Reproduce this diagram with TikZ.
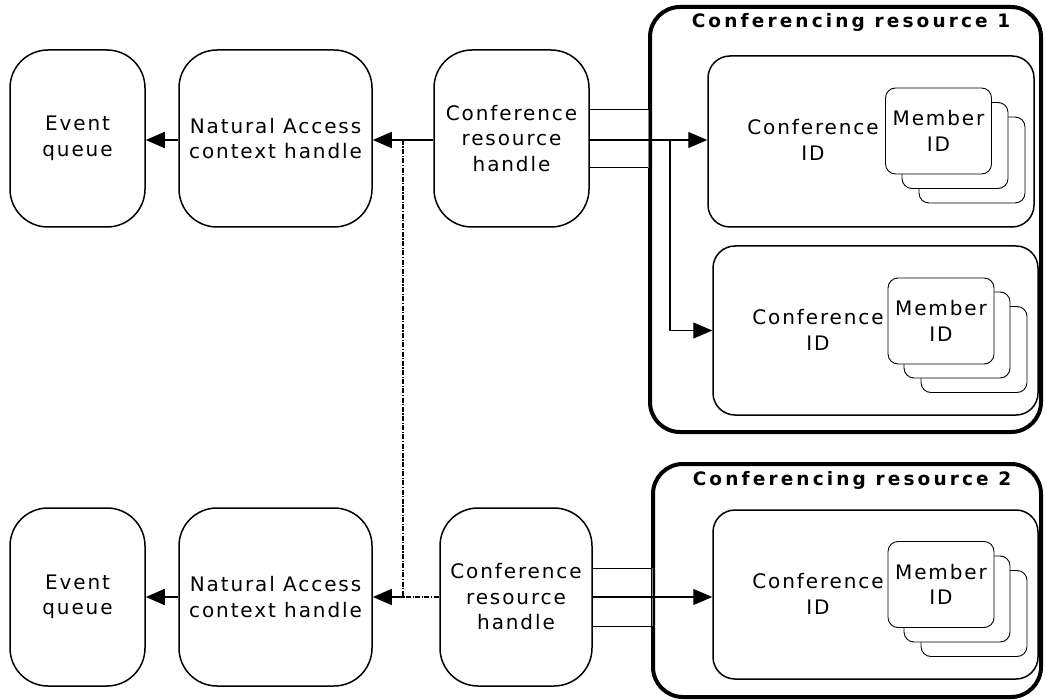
\documentclass[tikz,border=0pt]{standalone}
\usepackage{fontspec}
\setmainfont{DejaVu Sans}[LetterSpace=9.5]
\newfontfamily\titlefont{DejaVu Sans Bold}[LetterSpace=17]
\usetikzlibrary{arrows.meta}
\begin{document}
\begin{tikzpicture}[x=1pt,y=-1pt,
  txt/.style={font=\fontsize{20}{25.5}\selectfont, align=center, inner sep=0pt},
  bigbox/.style={draw, line width=1.5pt, rounded corners=38pt, txt},
  outerbox/.style={draw, line width=4pt, rounded corners=30pt},
  innerbox/.style={draw, line width=1.5pt, rounded corners=22pt},
  memberbox/.style={draw, fill=white, line width=0.9pt, rounded corners=10pt, minimum width=106pt, minimum height=86pt},
  conn/.style={line width=1.6pt, -{Triangle[length=19pt,width=16pt]}},
  thin/.style={line width=1pt},
  title/.style={font=\titlefont\fontsize{18.5}{20}\selectfont, inner sep=0pt}]
\useasboundingbox (0,0) rectangle (1046,700);

% ---------- left side boxes ----------
\node[bigbox, minimum width=135pt, minimum height=177pt] (eq1) at (77.5,138.5) {Event\\queue};
\node[bigbox, minimum width=193pt, minimum height=177pt] (na1) at (275.5,138.5) {Natural Access\\context handle};
\node[bigbox, minimum width=155pt, minimum height=177pt] (crh1) at (511.5,138.5) {Conference\\resource\\handle};

\node[bigbox, minimum width=135pt, minimum height=178pt] (eq2) at (77.5,597) {Event\\queue};
\node[bigbox, minimum width=193pt, minimum height=178pt] (na2) at (275.5,597) {Natural Access\\context handle};
\node[bigbox, minimum width=152pt, minimum height=178pt] (crh2) at (516,597) {Conference\\resource\\handle};

% ---------- conferencing resources ----------
\node[outerbox, minimum width=391pt, minimum height=425pt] (out1) at (845.5,219.5) {};
\node[outerbox, minimum width=388pt, minimum height=233pt] (out2) at (847,580.5) {};
\node[title] (t1) at (851,22) {Conferencing resource 1};
\node[title] (t2) at (852,480) {Conferencing resource 2};

\node[innerbox, minimum width=326pt, minimum height=171pt] (in1) at (871,141.5) {};
\node[innerbox, minimum width=325pt, minimum height=169pt] (in2) at (875.5,330.5) {};
\node[innerbox, minimum width=325pt, minimum height=169pt] (in3) at (875.5,594.5) {};

% member stacks
\node[memberbox] (m1c) at (972,160) {};
\node[memberbox] (m1b) at (955,145.5) {};
\node[memberbox, txt] (m1a) at (938.5,131) {Member\\ID};
\node[memberbox] (m2c) at (974,349.5) {};
\node[memberbox] (m2b) at (957,335) {};
\node[memberbox, txt] (m2a) at (941,321) {Member\\ID};
\node[memberbox] (m3c) at (974,613.5) {};
\node[memberbox] (m3b) at (957,599) {};
\node[memberbox, txt] (m3a) at (941,584.5) {Member\\ID};

\node[txt] (c1) at (813,140) {Conference\\ID};
\node[txt] (c2) at (818,330) {Conference\\ID};
\node[txt] (c3) at (818,594) {Conference\\ID};

% ---------- connectors ----------
\coordinate (j1) at (403,140);
\coordinate (j2) at (403,597);
\draw[conn] (crh1.west |- j1) -- (na1.east |- j1);
\draw[conn] (na1.west |- j1) -- (eq1.east |- j1);
\draw[line width=1.3pt, dash pattern=on 5pt off 1.5pt on 1.2pt off 1.5pt] (j1) -- (j2) -- (crh2.west |- j2);
\draw[conn] (j2) -- (na2.east |- j2);
\draw[conn] (na2.west |- j2) -- (eq2.east |- j2);

% top right fan
\coordinate (r1a) at (589,110);
\coordinate (r1b) at (648,110);
\coordinate (r1c) at (648,168);
\coordinate (r1d) at (589,168);
\draw[thin] (r1a) -- (r1b);
\draw[thin] (r1d) -- (r1c);
\draw[line width=0.8pt, gray] (r1b) -- (r1c);
\coordinate (b1) at (670,140);
\draw[conn, line width=1.3pt] (crh1.east |- j1) -- (in1.west |- j1);
\draw[conn, line width=1.3pt] (b1) |- (in2.west);

% bottom right fan
\coordinate (r2a) at (592,568);
\coordinate (r2b) at (652,568);
\coordinate (r2c) at (652,626);
\coordinate (r2d) at (592,626);
\draw[thin] (r2a) -- (r2b);
\draw[thin] (r2d) -- (r2c);
\draw[line width=0.8pt, gray] (r2b) -- (r2c);
\draw[conn, line width=1.3pt] (crh2.east |- j2) -- (in3.west |- j2);
\end{tikzpicture}
\end{document}
